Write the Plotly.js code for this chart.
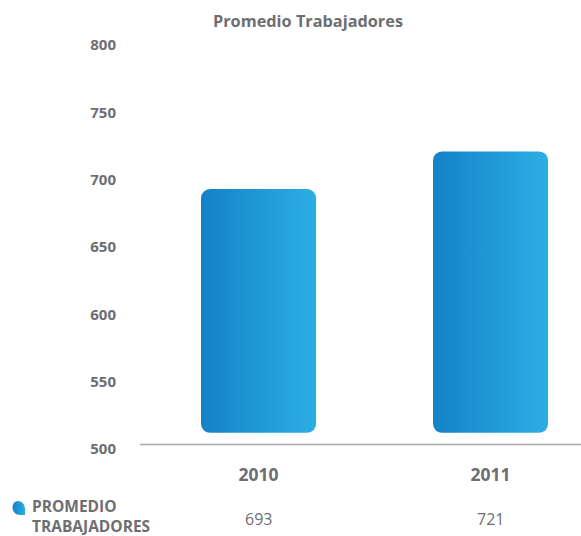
<!DOCTYPE html>
<html>
<head>
<meta charset="utf-8">
<script src="https://cdn.plot.ly/plotly-3.0.1.min.js"></script>
<style>
  html, body { margin: 0; padding: 0; background: #fff; }
  #chart { width: 581px; height: 536px; }
</style>
</head>
<body>
<div id="chart"></div>
<script>
// ---- Data ----
const years = ['2010', '2011'];
const workers = [693, 721];
const seriesLabelLines = ['PROMEDIO', 'TRABAJADORES'];
const chartTitle = 'Promedio Trabajadores';
const yTicks = [500, 550, 600, 650, 700, 750, 800];

// ---- Style ----
const FONT = 'Open Sans, sans-serif';
const GRAY = '#6d6e71';
const BAR_BASE = 512;   // bars float slightly above the axis in the original

const bars = {
  type: 'bar', x: years,
  base: years.map(() => BAR_BASE),
  y: workers.map(v => v - BAR_BASE),
  width: 0.496,
  marker: { color: '#1E9AD7', cornerradius: 9, line: { width: 0 } },
  hoverinfo: 'skip', showlegend: false
};

const annotations = workers.map((v, i) => ({
  x: i, xref: 'x', y: (449 - 519) / 404, yref: 'paper',
  text: String(v), showarrow: false,
  font: { family: FONT, size: 16, color: GRAY },
  xanchor: 'center', yanchor: 'middle', borderpad: 0
}));
annotations.push({
  x: (31 - 140) / 441, xref: 'paper', y: (449 - 515.5) / 404, yref: 'paper',
  text: seriesLabelLines.map(t => '<b>' + t + '</b>').join('<br>'),
  showarrow: false, align: 'left',
  font: { family: FONT, size: 15.5, color: GRAY },
  xanchor: 'left', yanchor: 'middle', borderpad: 0
});

const layout = {
  width: 581, height: 536,
  margin: { l: 140, r: 0, t: 45, b: 87 },
  paper_bgcolor: '#fff', plot_bgcolor: '#fff',
  font: { family: FONT, color: GRAY },
  title: {
    text: '<b>' + chartTitle + '</b>',
    font: { family: FONT, size: 16.3, color: GRAY },
    x: 308 / 581, xref: 'container', xanchor: 'center',
    y: 1 - 21 / 536, yref: 'container', yanchor: 'middle'
  },
  xaxis: {
    type: 'category', range: [-0.511, 1.39],
    showline: false, showgrid: false, zeroline: false, ticks: '',
    tickfont: { family: FONT, size: 17.5, color: GRAY, weight: 'bold' },
    ticklabelstandoff: 13, fixedrange: true
  },
  yaxis: {
    range: [500, 800], tickvals: yTicks, ticktext: yTicks.map(String),
    showline: false, showgrid: false, zeroline: false, ticks: '',
    tickfont: { family: FONT, size: 15, color: GRAY, weight: 'bold' },
    ticklabelstandoff: 23, fixedrange: true
  },
  shapes: [
    { type: 'line', xref: 'paper', x0: 0, x1: 1, yref: 'y', y0: 503.3, y1: 503.3,
      line: { color: '#a7a9ac', width: 1.5 } },
    { type: 'path', xref: 'paper', yref: 'paper',
      xsizemode: 'pixel', ysizemode: 'pixel',
      xanchor: (19 - 140) / 441, yanchor: (449 - 508) / 404,
      path: 'M -6.5 0.5 C -6.5 -4 -3 -7 1 -7 L 6 -7 L 6 -1.5 C 6 3.5 3 7 -1 7 C -4.5 7 -6.5 4 -6.5 0.5 Z',
      fillcolor: '#1E9AD7', line: { width: 0 } }
  ],
  annotations: annotations
};

Plotly.newPlot('chart', [bars], layout, { displayModeBar: false, staticPlot: true })
.then(gd => {
  const svg = gd.querySelector('svg.main-svg');
  const ns = 'http://www.w3.org/2000/svg';
  let defs = svg.querySelector('defs');
  if (!defs) { defs = document.createElementNS(ns, 'defs'); svg.insertBefore(defs, svg.firstChild); }
  const grad = document.createElementNS(ns, 'linearGradient');
  grad.setAttribute('id', 'barGrad');
  grad.setAttribute('x1', '0'); grad.setAttribute('y1', '0');
  grad.setAttribute('x2', '1'); grad.setAttribute('y2', '0');
  [['0', '#1482C7'], ['1', '#2BAEE4']].forEach(([o, c]) => {
    const s = document.createElementNS(ns, 'stop');
    s.setAttribute('offset', o); s.setAttribute('stop-color', c);
    grad.appendChild(s);
  });
  defs.appendChild(grad);
  gd.querySelectorAll('.barlayer .point path').forEach(p => { p.style.fill = 'url(#barGrad)'; });
  gd.querySelectorAll('.shapelayer path').forEach(p => {
    if (p.getAttribute('d') && p.getAttribute('d').indexOf('C') >= 0) p.style.fill = 'url(#barGrad)';
  });
});
</script>
</body>
</html>
